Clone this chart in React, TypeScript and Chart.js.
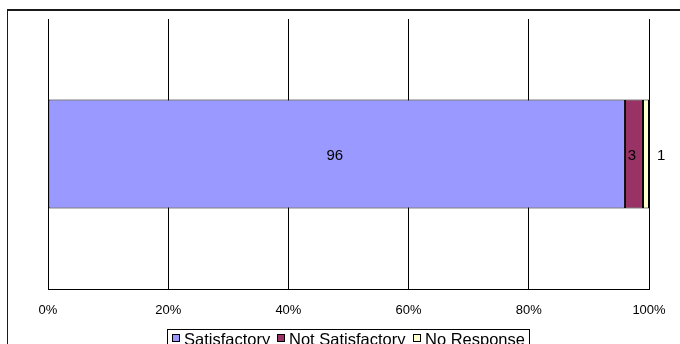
import React, { useEffect, useRef } from "react";
import { Chart, registerables } from "chart.js";

Chart.register(...registerables);

// Survey result, shown as one 100% stacked horizontal bar
const categories = ["Responses"];
const seriesNames = ["Satisfactory", "Not Satisfactory", "No Response"];
const satisfactory = [96];
const notSatisfactory = [3];
const noResponse = [1];
const seriesColors = ["#9999FF", "#993366", "#FFFFCC"];
const axisMin = 0;
const axisMax = 100;
const axisStep = 20;

const FONT = "'Liberation Sans', Arial, Helvetica, sans-serif";

// White background plus the outer frame lines (top and left edges of the chart box)
const framePlugin = {
  id: "frame",
  beforeDraw(chart: any) {
    const { ctx, width, height } = chart;
    ctx.save();
    ctx.fillStyle = "#ffffff";
    ctx.fillRect(0, 0, width, height);
    ctx.fillStyle = "#1a1a1a";
    ctx.fillRect(7, 9, width - 7, 2);
    ctx.fillRect(7, 9, 1, height - 9);
    ctx.restore();
  },
};

// Value labels: centred inside a segment when they fit, otherwise just after it
const valueLabelPlugin = {
  id: "valueLabels",
  afterDatasetsDraw(chart: any) {
    const { ctx } = chart;
    ctx.save();
    ctx.font = `15px ${FONT}`;
    ctx.fillStyle = "#000000";
    ctx.textBaseline = "middle";
    chart.data.datasets.forEach((ds: any, i: number) => {
      const meta = chart.getDatasetMeta(i);
      meta.data.forEach((el: any, j: number) => {
        const value = ds.data[j];
        const { x, y, base } = el.getProps(["x", "y", "base"], true);
        const left = Math.min(x, base);
        const right = Math.max(x, base);
        const text = String(value);
        const tw = ctx.measureText(text).width;
        if (tw + 4 < right - left) {
          ctx.textAlign = "center";
          ctx.fillText(text, (left + right) / 2 - 2, y + 1.5);
        } else {
          ctx.textAlign = "left";
          ctx.fillText(text, right + 8, y + 1.5);
        }
      });
    });
    ctx.restore();
  },
};

// Boxed legend below the axis labels
const boxedLegendPlugin = {
  id: "boxedLegend",
  afterDraw(chart: any) {
    const { ctx, chartArea } = chart;
    const datasets = chart.data.datasets;
    ctx.save();
    ctx.font = `16.5px ${FONT}`;
    const swatch = 8;
    const swatchGap = 4;
    const itemGap = 7;
    const pad = 4.5;
    const widths = datasets.map((d: any) => ctx.measureText(d.label).width);
    let inner = 0;
    widths.forEach((w: number, i: number) => {
      inner += swatch + swatchGap + w + (i < widths.length - 1 ? itemGap : 0);
    });
    const total = inner + pad * 2;
    const center = (chartArea.left + chartArea.right) / 2 - 1;
    const boxLeft = Math.round(center - total / 2) + 0.5;
    const boxTop = 329.5;
    ctx.strokeStyle = "#000000";
    ctx.lineWidth = 1;
    ctx.strokeRect(boxLeft, boxTop, Math.round(total), 40);

    let x = boxLeft + pad;
    const baseline = 345;
    datasets.forEach((d: any, i: number) => {
      const bx = Math.round(x);
      ctx.fillStyle = d.backgroundColor;
      ctx.fillRect(bx, 334, swatch, swatch);
      ctx.strokeStyle = "#000000";
      ctx.strokeRect(bx + 0.5, 334.5, swatch - 1, swatch - 1);
      ctx.fillStyle = "#000000";
      ctx.textAlign = "left";
      ctx.textBaseline = "alphabetic";
      ctx.fillText(d.label, bx + swatch + swatchGap, baseline);
      x += swatch + swatchGap + widths[i] + itemGap;
    });
    ctx.restore();
  },
};

export default function App() {
  const canvasRef = useRef<HTMLCanvasElement | null>(null);

  useEffect(() => {
    if (!canvasRef.current) return;
    const seriesValues = [satisfactory, notSatisfactory, noResponse];
    const chart = new Chart(canvasRef.current, {
      type: "bar",
      data: {
        labels: categories,
        datasets: seriesNames.map((name, i) => ({
          label: name,
          data: seriesValues[i],
          backgroundColor: seriesColors[i],
          borderColor: "#000000",
          borderWidth: 1,
          borderSkipped: false,
          categoryPercentage: 1,
          barPercentage: 0.404,
        })),
      },
      options: {
        indexAxis: "y",
        responsive: false,
        animation: false,
        devicePixelRatio: 1,
        layout: { padding: { left: 48, right: 31, top: 19, bottom: 0 } },
        plugins: {
          legend: { display: false },
          tooltip: { enabled: false },
          title: { display: false },
        },
        scales: {
          x: {
            type: "linear",
            stacked: true,
            min: axisMin,
            max: axisMax,
            afterFit: (scale: any) => {
              scale.height = 55;
            },
            ticks: {
              stepSize: axisStep,
              color: "#000000",
              padding: 14,
              font: { family: FONT, size: 13 },
              callback: (v: any) => `${v}%`,
              maxRotation: 0,
            },
            grid: {
              color: "#000000",
              lineWidth: 1,
              drawTicks: false,
            },
            border: { display: true, color: "#000000", width: 1 },
          },
          y: {
            type: "category",
            stacked: true,
            display: false,
          },
        },
      },
      plugins: [framePlugin, valueLabelPlugin, boxedLegendPlugin],
    });
    return () => chart.destroy();
  }, []);

  return (
    <div
      style={{
        position: "fixed",
        left: 0,
        top: 0,
        width: 680,
        height: 344,
        background: "#ffffff",
        overflow: "hidden",
      }}
    >
      <canvas ref={canvasRef} width={680} height={344} />
    </div>
  );
}
